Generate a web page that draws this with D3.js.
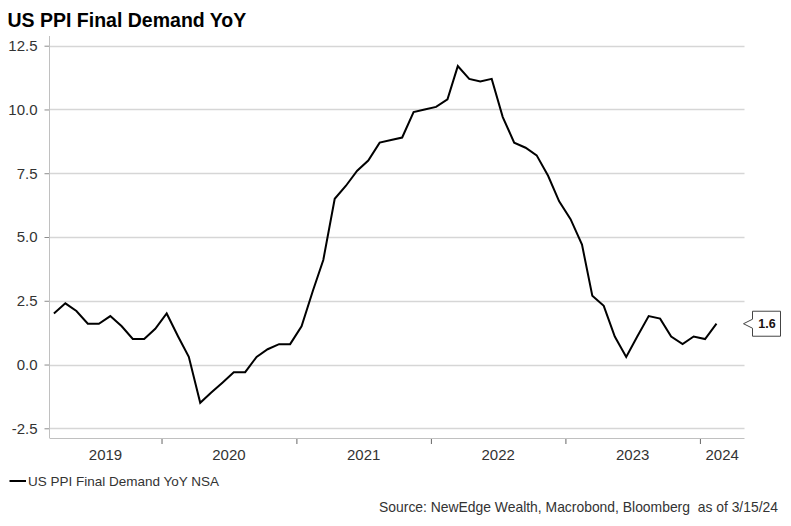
<!DOCTYPE html>
<html>
<head>
<meta charset="utf-8">
<script src="https://cdn.jsdelivr.net/npm/d3@7"></script>
<style>
  body { margin: 0; background: #fff; }
  text { font-family: "Liberation Sans", Arial, sans-serif; }
</style>
</head>
<body>
<div id="chart"></div>
<script>
// monthly PPI final demand YoY (%), Mar 2019 .. Feb 2024
const months = [
  "2019-03","2019-04","2019-05","2019-06","2019-07","2019-08","2019-09","2019-10","2019-11","2019-12",
  "2020-01","2020-02","2020-03","2020-04","2020-05","2020-06","2020-07","2020-08","2020-09","2020-10","2020-11","2020-12",
  "2021-01","2021-02","2021-03","2021-04","2021-05","2021-06","2021-07","2021-08","2021-09","2021-10","2021-11","2021-12",
  "2022-01","2022-02","2022-03","2022-04","2022-05","2022-06","2022-07","2022-08","2022-09","2022-10","2022-11","2022-12",
  "2023-01","2023-02","2023-03","2023-04","2023-05","2023-06","2023-07","2023-08","2023-09","2023-10","2023-11","2023-12",
  "2024-01","2024-02"
]
const ppiYoY = [
  2.0, 2.4, 2.1, 1.6, 1.6, 1.9, 1.5, 1.0, 1.0, 1.4,
  2.0, 1.1, 0.3, -1.5, -1.1, -0.7, -0.3, -0.3, 0.3, 0.6, 0.8, 0.8,
  1.5, 2.9, 4.1, 6.5, 7.0, 7.6, 8.0, 8.7, 8.8, 8.9, 9.9, 10.0,
  10.1, 10.4, 11.7, 11.2, 11.1, 11.2, 9.7, 8.7, 8.5, 8.2, 7.4, 6.4,
  5.7, 4.7, 2.7, 2.3, 1.1, 0.3, 1.1, 1.9, 1.8, 1.1, 0.8, 1.1,
  1.0, 1.6
]
const yTicks = [-2.5, 0, 2.5, 5, 7.5, 10, 12.5]
const years = [2019, 2020, 2021, 2022, 2023, 2024]

const title = "US PPI Final Demand YoY"
const legendLabel = "US PPI Final Demand YoY NSA"
const sourceText = "Source: NewEdge Wealth, Macrobond, Bloomberg\u00a0 as of 3/15/24"

const parseMonth = d3.timeParse("%Y-%m")
const data = months.map((m, i) => {
  const d = parseMonth(m)
  d.setDate(15)
  return { date: d, value: ppiYoY[i] }
})

const width = 791, height = 526
const plot = { left: 49.5, right: 744.5, top: 36, bottom: 438 }

const svg = d3.select("#chart").append("svg")
  .attr("width", width)
  .attr("height", height)

const x = d3.scaleTime()
  .domain([new Date(2019, 2, 3), new Date(2024, 4, 1)])
  .range([plot.left, plot.right])

// 12.5 sits at 45.7px, -2.5 at 428.3px
const pxPerUnit = (428.3 - 45.7) / 15
const y = d3.scaleLinear()
  .domain([-2.5 - (plot.bottom - 428.3) / pxPerUnit, 12.5 + (45.7 - plot.top) / pxPerUnit])
  .range([plot.bottom, plot.top])

// title
svg.append("text")
  .attr("x", 7.5).attr("y", 26.5)
  .attr("font-size", "19.5px")
  .attr("font-weight", "bold")
  .attr("fill", "#000")
  .text(title)

// gridlines
svg.append("g").selectAll("line")
  .data(yTicks)
  .join("line")
    .attr("x1", plot.left).attr("x2", plot.right)
    .attr("y1", d => Math.round(y(d)) + 0.5).attr("y2", d => Math.round(y(d)) + 0.5)
    .attr("stroke", "#d6d6d6")
    .attr("stroke-width", 1.3)

// y axis
const yAxis = svg.append("g")
  .attr("transform", `translate(${plot.left},0)`)
  .call(d3.axisLeft(y).tickValues(yTicks).tickFormat(d => d.toFixed(1)).tickSize(5).tickPadding(7))
yAxis.select(".domain").remove()
yAxis.selectAll(".tick line").attr("stroke", "#8c8c8c")
yAxis.selectAll(".tick text")
  .attr("font-size", "15px")
  .attr("fill", "#333")
  .attr("font-family", "Liberation Sans, Arial, sans-serif")
yAxis.append("line")
  .attr("x1", 0).attr("x2", 0)
  .attr("y1", plot.top).attr("y2", plot.bottom)
  .attr("stroke", "#c0c0c0")

// x axis
const xAxis = svg.append("g")
  .attr("transform", `translate(0,${plot.bottom})`)
  .call(d3.axisBottom(x).tickValues(years.slice(1).map(yr => new Date(yr, 0, 1))).tickFormat("").tickSize(6))
xAxis.select(".domain").remove()
xAxis.selectAll(".tick line").attr("stroke", "#666")
xAxis.append("line")
  .attr("x1", plot.left).attr("x2", plot.right)
  .attr("y1", 0.5).attr("y2", 0.5)
  .attr("stroke", "#c0c0c0")

svg.append("g").selectAll("text")
  .data(years)
  .join("text")
    .attr("x", yr => {
      const a = Math.max(x(new Date(yr, 0, 1)), plot.left)
      const b = Math.min(x(new Date(yr + 1, 0, 1)), plot.right)
      return (a + b) / 2
    })
    .attr("y", 460)
    .attr("text-anchor", "middle")
    .attr("font-size", "15px")
    .attr("fill", "#333")
    .text(yr => yr)

// series line
const line = d3.line()
  .x(d => x(d.date))
  .y(d => y(d.value))

svg.append("path")
  .datum(data)
  .attr("fill", "none")
  .attr("stroke", "#000")
  .attr("stroke-width", 2)
  .attr("stroke-linejoin", "miter")
  .attr("d", line)

// last value callout
const last = data[data.length - 1]
const ly = y(last.value)
const bx = 752.5, bw = 28, bh = 25
svg.append("path")
  .attr("d", `M${bx},${ly - bh / 2} H${bx + bw} V${ly + bh / 2} H${bx} V${ly + 4.5} L${bx - 9},${ly} L${bx},${ly - 4.5} Z`)
  .attr("fill", "#fff")
  .attr("stroke", "#444")
  .attr("stroke-width", 1)
svg.append("text")
  .attr("x", bx + bw / 2 + 0.5)
  .attr("y", ly + 4.5)
  .attr("text-anchor", "middle")
  .attr("font-size", "12.5px")
  .attr("font-weight", "bold")
  .attr("fill", "#1a1010")
  .text(last.value.toFixed(1))

// legend
svg.append("line")
  .attr("x1", 9.5).attr("x2", 26)
  .attr("y1", 481).attr("y2", 481)
  .attr("stroke", "#000")
  .attr("stroke-width", 2)
svg.append("text")
  .attr("x", 28).attr("y", 486)
  .attr("font-size", "13.5px")
  .attr("fill", "#333")
  .text(legendLabel)

// source
svg.append("text")
  .attr("x", 778).attr("y", 512)
  .attr("text-anchor", "end")
  .attr("font-size", "13.9px")
  .attr("fill", "#333")
  .text(sourceText)
</script>
</body>
</html>
